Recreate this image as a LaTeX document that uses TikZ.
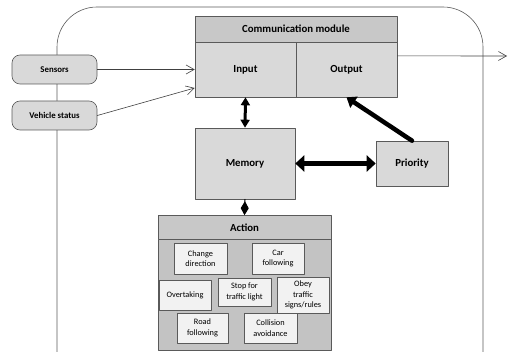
\documentclass[tikz,border=0pt]{standalone}
\usepackage{fontspec}
\setmainfont{Carlito}
\usetikzlibrary{arrows.meta}

\definecolor{boxgray}{HTML}{D9D9D9}
\definecolor{hdrgray}{HTML}{C8C8C8}
\definecolor{subgray}{HTML}{F2F2F2}
\definecolor{edgegray}{HTML}{5A5A5A}

\begin{document}
\begin{tikzpicture}[line cap=round,line join=round,x=1pt,y=1pt,
    blk/.style={draw=edgegray,fill=boxgray,font=\bfseries\fontsize{10.8}{13}\selectfont,
      inner sep=0pt,line width=0.6pt},
    hdr/.style={blk,fill=hdrgray},
    ext/.style={blk,rounded corners=8pt,font=\bfseries\fontsize{8.8}{10}\selectfont},
    act/.style={draw=edgegray,fill=subgray,inner sep=0pt,align=center,line width=0.5pt,
      font=\fontsize{8.3}{10.5}\selectfont},
    thin/.style={draw=black!75,line width=0.6pt,-{Straight Barb[length=8pt,width=9pt]}},
    thick/.style={line width=4.5pt,{Triangle[length=9pt,width=16pt]}-{Triangle[length=9pt,width=16pt]}}]
      \useasboundingbox (0,0) rectangle (521,351);
      \clip (0,0) rectangle (521,351);

      % system frame
      \draw[edgegray,line width=0.6pt,rounded corners=40pt] (57,-40) rectangle (483,344);

      % communication module
      \node[hdr,minimum width=202,minimum height=26] (comm) at (296,322) {Communication module};
      \node[blk,minimum width=101,minimum height=55] (input) at (245.5,281.5) {Input};
      \node[blk,minimum width=101,minimum height=55] (output) at (346.5,281.5) {Output};

      % inputs from outside
      \node[ext,minimum width=85,minimum height=29] (sensors) at (54.5,281.5) {Sensors};
      \node[ext,minimum width=85,minimum height=29] (vehicle) at (54.5,235.5) {Vehicle status};

      \node[blk,minimum width=100,minimum height=71] (memory) at (245,187.5) {Memory};
      \node[blk,minimum width=72,minimum height=45] (priority) at (412,187.5) {Priority};

      % action block
      \node[blk,fill=boxgray!90!black,minimum width=173,minimum height=111] (actbody) at (244.5,56.5) {};
      \node[hdr,minimum width=173,minimum height=24] (action) at (244.5,123.5) {Action};
      \node[act,minimum width=53,minimum height=31] (chgdir) at (200.5,92.5) {Change\\direction};
      \node[act,minimum width=52,minimum height=31] (carfol) at (278,92.5) {Car\\following};
      \node[act,minimum width=52,minimum height=30] (overtake) at (185,56) {Overtaking};
      \node[act,minimum width=53,minimum height=28] (stoplight) at (244.5,59) {Stop for\\traffic light};
      \node[act,minimum width=52,minimum height=36] (obey) at (303,56) {Obey\\traffic\\signs/rules};
      \node[act,minimum width=51,minimum height=30] (roadfol) at (202.5,23) {Road\\following};
      \node[act,minimum width=53,minimum height=30] (collide) at (270.5,23) {Collision\\avoidance};

      \coordinate (away) at (507,295);

      % connectors
      \draw[thin] (sensors) -- (input);
      \draw[thin] (vehicle.east) -- (input.200);
      \draw[thin] (output.15) -- (away);
      \draw[line width=3pt,{Triangle[length=8pt,width=9pt]}-{Triangle[length=8pt,width=9pt]}] (input.south) -- (memory.north);
      \draw[thick] (memory.east) -- (priority.west);
      \draw[line width=4.5pt,-{Triangle[length=9pt,width=13pt]}] (priority.north) -- (output.south);
      \draw[line width=1pt,-{Diamond[length=14pt,width=8pt]}] (memory.south) -- (action.north);
\end{tikzpicture}
\end{document}
